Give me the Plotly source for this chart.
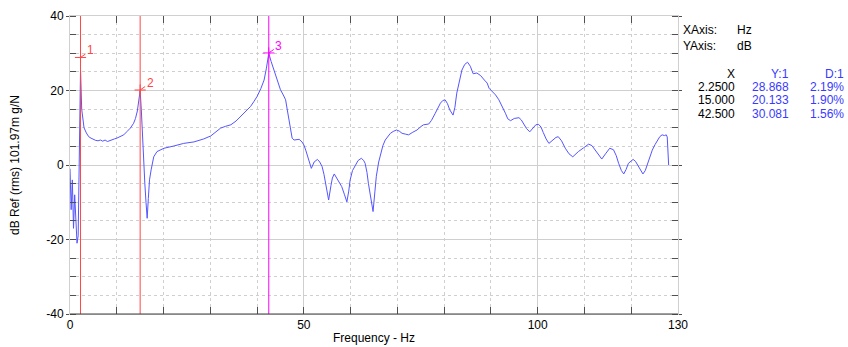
import plotly.graph_objects as go

# ---------------- data ----------------
freq = [0, 0.25, 0.5, 0.75, 1.0, 1.25, 1.5, 1.75, 2.0, 2.25, 2.5, 2.75, 3.0, 3.5, 4.0, 4.5,
        5.0, 5.5, 6.0, 6.5, 7.0, 7.5, 8.0, 8.5, 9.0, 9.5, 10.0, 10.8, 11.5, 12.2, 12.9, 13.6,
        14.0, 14.4, 14.75, 15.0, 15.25, 15.5, 15.75, 16.0, 16.25, 16.5, 16.75, 17.0, 17.35, 17.9,
        18.6, 20.1, 22.2, 24.3, 26.5, 28.6, 30.1, 31.0, 32.2, 33.3, 34.4, 35.5, 36.5, 37.5, 38.6,
        39.3, 40.0, 40.8, 41.5, 42.0, 42.5, 43.0, 43.6, 44.3, 45.0, 45.6, 46.1, 46.5, 46.8, 47.1,
        47.5, 47.9, 48.6, 49.0, 49.6, 50.0, 50.4, 50.8, 51.2, 51.6, 52.2, 52.9, 53.4, 53.9, 54.3,
        54.6, 55.0, 55.3, 55.8, 56.1, 56.5, 57.0, 57.4, 58.1, 58.7, 59.2, 59.6, 59.9, 60.4, 61.0,
        61.6, 62.3, 62.8, 63.1, 63.5, 63.8, 64.3, 64.8, 65.2, 65.5, 66.0, 66.4, 66.9, 67.4, 68.0,
        68.5, 69.1, 69.8, 70.4, 71.0, 71.7, 72.4, 73.3, 74.2, 75.0, 75.6, 76.7, 77.3, 78.1, 78.7,
        79.2, 79.7, 80.2, 80.7, 81.2, 81.9, 82.3, 82.7, 83.2, 83.8, 84.4, 85.0, 85.6, 86.2, 87.0,
        87.8, 88.6, 89.2, 89.6, 90.3, 91.0, 91.7, 92.4, 93.1, 93.6, 94.2, 95.0, 96.0, 96.5, 97.0,
        97.6, 98.3, 98.7, 99.1, 99.6, 100.2, 100.7, 101.2, 101.8, 102.4, 102.9, 103.4, 103.9, 104.4,
        105.1, 105.9, 106.7, 107.5, 108.1, 108.7, 109.8, 110.9, 111.6, 112.3, 113.0, 113.7, 114.5,
        115.4, 116.2, 116.8, 117.3, 117.9, 118.4, 118.9, 119.4, 120.4, 120.9, 121.4, 122.0, 122.5,
        123.0, 123.4, 124.0, 124.5, 125.1, 125.6, 126.1, 126.6, 127.1, 127.5, 127.7, 128.0]

level_db = [-1, -12, -4, -17, -8, -14, -21, -19, 8, 25.5, 15, 12, 10, 8.6, 7.6, 7.2,
            6.8, 6.6, 6.5, 6.7, 6.4, 6.7, 6.3, 6.6, 6.9, 7.0, 7.2, 7.6, 8.1, 9.0, 9.9, 11.2,
            12.5, 14.5, 18, 20.0, 14.8, 7, 1, -5, -10, -14.3, -9, -4, -1.3, 2.2,
            3.6, 4.5, 5.1, 5.8, 6.2, 7.0, 7.8, 8.6, 9.9, 10.4, 10.8, 11.8, 13.0, 14.3, 15.7,
            17.0, 18.4, 20.5, 22.8, 26, 30.0, 27.8, 25.5, 22.8, 20.2, 18.8, 17.5, 14.5, 12.1, 9.4,
            7.2, 6.7, 6.9, 6.9, 6.2, 5.4, 4.0, 2.2, 0.5, -0.9, 0.8, 1.5, 0.8, -0.4, -2.5,
            -4.9, -7.5, -9.4, -5.5, -3.5, -2.4, -3.5, -4.5, -5.8, -8, -9.9, -7, -4.0, -1.5, 0,
            1.2, 1.8, 1.2, 0.45, -2, -4.9, -9, -12.5, -7, -3, 0.8, 3.1, 5.2, 6.7, 7.8,
            8.5, 9.0, 9.4, 9.1, 8.5, 8.3, 8.1, 8.8, 9.4, 10.3, 10.8, 11.0, 12.0, 13.9, 15.5,
            16.6, 17.3, 17.5, 16.5, 14.8, 13.4, 15.5, 19.3, 22.5, 25.5, 27, 27.6, 26.5, 24.5, 24.7,
            24.0, 22.8, 22.0, 20.6, 19.7, 18.8, 17.5, 15.8, 13.9, 12.4, 11.9, 12.5, 12.7, 12.1, 11.2,
            9.8, 8.9, 9.4, 10.1, 10.8, 10.9, 10.2, 8.7, 7.0, 5.8, 6.3, 6.9, 7.4, 7.6,
            6.5, 4.5, 3.0, 2.2, 2.9, 3.6, 4.6, 5.6, 5.2, 4.0, 2.5, 1.6, 3.0,
            4.5, 4.1, 2.5, 0.45, -1.5, -2.4, -1.2, 0.45, 1.5, 1.0, 0, -1.5, -2.4,
            -1.5, 0, 2.0, 4.0, 5.5, 6.7, 7.6, 8.1, 7.9, 8.1, 7.5, 0]

marker_ids = ["1", "2", "3"]
marker_freq = [2.25, 15.0, 42.5]
marker_db = [28.868, 20.133, 30.081]
marker_damp = [2.19, 1.90, 1.56]

x_tickvals = [0, 50, 100, 130]
y_tickvals = [-40, -20, 0, 20, 40]

# ---------------- styles ----------------
FONT = "Liberation Sans, Arial, sans-serif"
CURVE = "rgb(85,85,255)"
BLUE_TXT = "#3a3aff"
marker_colors = ["#ff4646", "#ff4646", "#ff00ff"]
GRID = "#cfcfcf"
TICK = "#505050"

FIG_W, FIG_H = 848, 347
M_L, M_R, M_T, M_B = 70, 170, 16, 33

fig = go.Figure()

fig.add_trace(go.Scatter(x=freq, y=level_db, mode="lines",
                         line=dict(color=CURVE, width=1), hoverinfo="skip",
                         showlegend=False))

for i in range(len(marker_ids)):
    fig.add_vline(x=marker_freq[i], line_color=marker_colors[i], line_width=1, layer="above")

fig.add_trace(go.Scatter(x=marker_freq, y=marker_db, mode="markers",
                         marker=dict(symbol="cross-thin", size=8,
                                     line=dict(width=1, color=marker_colors)),
                         showlegend=False, hoverinfo="skip"))

for i in range(len(marker_ids)):
    fig.add_annotation(x=marker_freq[i], y=marker_db[i], text=marker_ids[i],
                       showarrow=True, ax=10, ay=-7, arrowhead=0, arrowwidth=1,
                       arrowcolor=marker_colors[i], standoff=0,
                       font=dict(family=FONT, size=12, color=marker_colors[i]))

# frame: bottom line darker
fig.add_shape(type="line", xref="x domain", yref="y domain", x0=0, x1=1, y0=0, y1=0,
              line=dict(color="#404040", width=1))

fig.update_xaxes(range=[0, 130], tickvals=x_tickvals, ticktext=[str(v) for v in x_tickvals],
                 showgrid=True, gridcolor=GRID, gridwidth=1,
                 ticks="inside", ticklen=7, tickcolor=TICK, tickwidth=1,
                 showline=True, linecolor="#d0d0d0", linewidth=1, mirror="ticks",
                 zeroline=False,
                 minor=dict(dtick=10, tick0=0, ticks="inside", ticklen=7, tickcolor=TICK,
                            showgrid=True, gridcolor=GRID, griddash="3px,3px", gridwidth=1),
                 title=dict(text="Frequency - Hz", font=dict(family=FONT, size=12, color="black"),
                            standoff=2),
                 tickfont=dict(family=FONT, size=12, color="black"))

fig.update_yaxes(range=[-40, 40], tickvals=y_tickvals, ticktext=[str(v) for v in y_tickvals],
                 showgrid=True, gridcolor=GRID, gridwidth=1,
                 ticks="outside", ticklen=3, tickcolor=TICK,
                 showline=True, linecolor="#d0d0d0", linewidth=1, mirror="ticks",
                 zeroline=False,
                 minor=dict(dtick=5, tick0=0, ticks="inside", ticklen=6, tickcolor=TICK,
                            showgrid=True, gridcolor=GRID, griddash="3px,3px", gridwidth=1),
                 title=dict(text="dB Ref (rms) 101.97m g/N",
                            font=dict(family=FONT, size=12, color="black"), standoff=24),
                 tickfont=dict(family=FONT, size=12, color="black"))

# ---------------- side panel text (positions in page pixels) ----------------
W_PLOT = FIG_W - M_L - M_R
H_PLOT = FIG_H - M_T - M_B


def px_x(px):
    return (px - M_L) / W_PLOT


def px_y(py):
    return (M_T + H_PLOT - py) / H_PLOT


def side_text(px, py, text, color="black", anchor="left"):
    fig.add_annotation(xref="paper", yref="paper", x=px_x(px), y=px_y(py), text=text,
                       showarrow=False, xanchor=anchor, yanchor="middle",
                       font=dict(family=FONT, size=12, color=color))


side_text(681, 30, "XAxis:")
side_text(735, 30, "Hz")
side_text(681, 46, "YAxis:")
side_text(735, 46, "dB")

side_text(737, 74, "X", anchor="right")
side_text(791, 74, "Y:1", BLUE_TXT, anchor="right")
side_text(846, 74, "D:1", BLUE_TXT, anchor="right")


def fmt5(v):
    digits = len(str(int(abs(v))))
    return f"{v:.{max(5 - digits, 0)}f}"


row_y = [86.5, 100, 113.5]
for i in range(len(marker_freq)):
    side_text(737, row_y[i], fmt5(marker_freq[i]), anchor="right")
    side_text(791, row_y[i], fmt5(marker_db[i]), BLUE_TXT, anchor="right")
    side_text(846, row_y[i], f"{marker_damp[i]:.2f}%", BLUE_TXT, anchor="right")

fig.update_layout(width=FIG_W, height=FIG_H,
                  margin=dict(l=M_L, r=M_R, t=M_T, b=M_B, autoexpand=False),
                  paper_bgcolor="white", plot_bgcolor="white",
                  font=dict(family=FONT, size=12, color="black"),
                  showlegend=False)

fig.write_html("out.html", config={"displayModeBar": False},
               post_script="document.body.style.margin='0px';"
                           "document.body.style.overflow='hidden';")
